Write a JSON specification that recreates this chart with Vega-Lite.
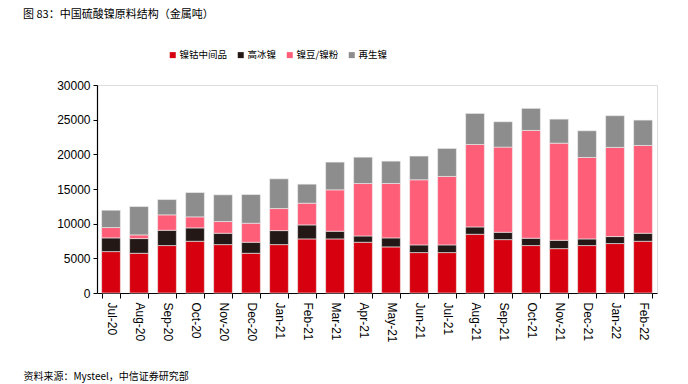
{
  "$schema": "https://vega.github.io/schema/vega-lite/v6.json",
  "width": 560,
  "height": 208,
  "autosize": {"type": "none"},
  "padding": {"left": 97, "top": 85, "right": 31, "bottom": 91},
  "background": "white",
  "title": {
    "text": "图 83：中国硫酸镍原料结构（金属吨）",
    "anchor": "start",
    "frame": "group",
    "dx": -74,
    "offset": 30,
    "font": "Noto Sans CJK SC",
    "fontSize": 11,
    "fontWeight": "normal",
    "color": "#000000"
  },
  "datasets": {
    "main": [
      {"month": "Jul-20", "镍钴中间品": 5970, "高冰镍": 1980, "镍豆/镍粉": 1490, "再生镍": 2500},
      {"month": "Aug-20", "镍钴中间品": 5730, "高冰镍": 2120, "镍豆/镍粉": 530, "再生镍": 4090},
      {"month": "Sep-20", "镍钴中间品": 6840, "高冰镍": 2210, "镍豆/镍粉": 2220, "再生镍": 2210},
      {"month": "Oct-20", "镍钴中间品": 7460, "高冰镍": 1930, "镍豆/镍粉": 1590, "再生镍": 3510},
      {"month": "Nov-20", "镍钴中间品": 6980, "高冰镍": 1640, "镍豆/镍粉": 1690, "再生镍": 3850},
      {"month": "Dec-20", "镍钴中间品": 5730, "高冰镍": 1590, "镍豆/镍粉": 2740, "再生镍": 4140},
      {"month": "Jan-21", "镍钴中间品": 6980, "高冰镍": 2020, "镍豆/镍粉": 3180, "再生镍": 4290},
      {"month": "Feb-21", "镍钴中间品": 7800, "高冰镍": 2020, "镍豆/镍粉": 3130, "再生镍": 2750},
      {"month": "Mar-21", "镍钴中间品": 7800, "高冰镍": 1110, "镍豆/镍粉": 5970, "再生镍": 4000},
      {"month": "Apr-21", "镍钴中间品": 7320, "高冰镍": 910, "镍豆/镍粉": 7560, "再生镍": 3800},
      {"month": "May-21", "镍钴中间品": 6650, "高冰镍": 1300, "镍豆/镍粉": 7850, "再生镍": 3220},
      {"month": "Jun-21", "镍钴中间品": 5830, "高冰镍": 1110, "镍豆/镍粉": 9390, "再生镍": 3420},
      {"month": "Jul-21", "镍钴中间品": 5830, "高冰镍": 1110, "镍豆/镍粉": 9870, "再生镍": 4040},
      {"month": "Aug-21", "镍钴中间品": 8470, "高冰镍": 1060, "镍豆/镍粉": 11890, "再生镍": 4480},
      {"month": "Sep-21", "镍钴中间品": 7700, "高冰镍": 1060, "镍豆/镍粉": 12280, "再生镍": 3660},
      {"month": "Oct-21", "镍钴中间品": 6840, "高冰镍": 1060, "镍豆/镍粉": 15550, "再生镍": 3180},
      {"month": "Nov-21", "镍钴中间品": 6400, "高冰镍": 1200, "镍豆/镍粉": 14010, "再生镍": 3470},
      {"month": "Dec-21", "镍钴中间品": 6840, "高冰镍": 960, "镍豆/镍粉": 11750, "再生镍": 3850},
      {"month": "Jan-22", "镍钴中间品": 7130, "高冰镍": 1010, "镍豆/镍粉": 12860, "再生镍": 4570},
      {"month": "Feb-22", "镍钴中间品": 7460, "高冰镍": 1160, "镍豆/镍粉": 12660, "再生镍": 3660}
    ],
    "series": [
      {"series": "镍钴中间品", "rank": 1},
      {"series": "高冰镍", "rank": 2},
      {"series": "镍豆/镍粉", "rank": 3},
      {"series": "再生镍", "rank": 4}
    ]
  },
  "data": {"name": "main"},
  "transform": [
    {"fold": ["镍钴中间品", "高冰镍", "镍豆/镍粉", "再生镍"], "as": ["series", "value"]},
    {"lookup": "series", "from": {"data": {"name": "series"}, "key": "series", "fields": ["rank"]}}
  ],
  "mark": {"type": "bar", "stroke": "#f0f0f0", "strokeWidth": 0.6},
  "encoding": {
    "x": {
      "field": "month",
      "type": "ordinal",
      "sort": null,
      "scale": {"paddingInner": 0.33, "paddingOuter": 0.165},
      "axis": {
        "title": "资料来源：Mysteel，中信证券研究部",
        "titleX": -74,
        "titleY": 83,
        "titleAlign": "left",
        "titleBaseline": "middle",
        "titleFont": "Noto Sans CJK SC",
        "titleFontSize": 10,
        "titleFontWeight": "normal",
        "titleColor": "#000000",
        "labelAngle": 90,
        "labelAlign": "left",
        "labelBaseline": "middle",
        "labelFont": "Liberation Sans",
        "labelFontSize": 12,
        "labelColor": "#000000",
        "labelPadding": 4,
        "tickBand": "extent",
        "tickSize": 5,
        "tickColor": "#000000",
        "domainColor": "#000000",
        "domainWidth": 1.2
      }
    },
    "y": {
      "field": "value",
      "type": "quantitative",
      "stack": "zero",
      "scale": {"domain": [0, 30000], "nice": false},
      "axis": {
        "title": null,
        "values": [0, 5000, 10000, 15000, 20000, 25000, 30000],
        "format": "d",
        "grid": false,
        "labelFont": "Liberation Sans",
        "labelFontSize": 12,
        "labelColor": "#000000",
        "labelPadding": 3,
        "tickSize": 4,
        "tickColor": "#000000",
        "domainColor": "#000000",
        "domainWidth": 1.2
      }
    },
    "color": {
      "field": "series",
      "type": "nominal",
      "scale": {
        "domain": ["镍钴中间品", "高冰镍", "镍豆/镍粉", "再生镍"],
        "range": ["#d6000f", "#231815", "#ff5e78", "#8d8d8d"]
      },
      "legend": {
        "orient": "none",
        "legendX": 71,
        "legendY": -35,
        "direction": "horizontal",
        "title": null,
        "symbolType": "square",
        "symbolSize": 36,
        "symbolStrokeWidth": 0,
        "symbolOffset": 0,
        "labelFont": "Noto Sans CJK SC",
        "labelFontSize": 9.5,
        "labelColor": "#000000",
        "labelOffset": 2,
        "columnPadding": 8,
        "padding": 0
      }
    },
    "order": {"field": "rank", "type": "quantitative", "sort": "ascending"}
  }
}
